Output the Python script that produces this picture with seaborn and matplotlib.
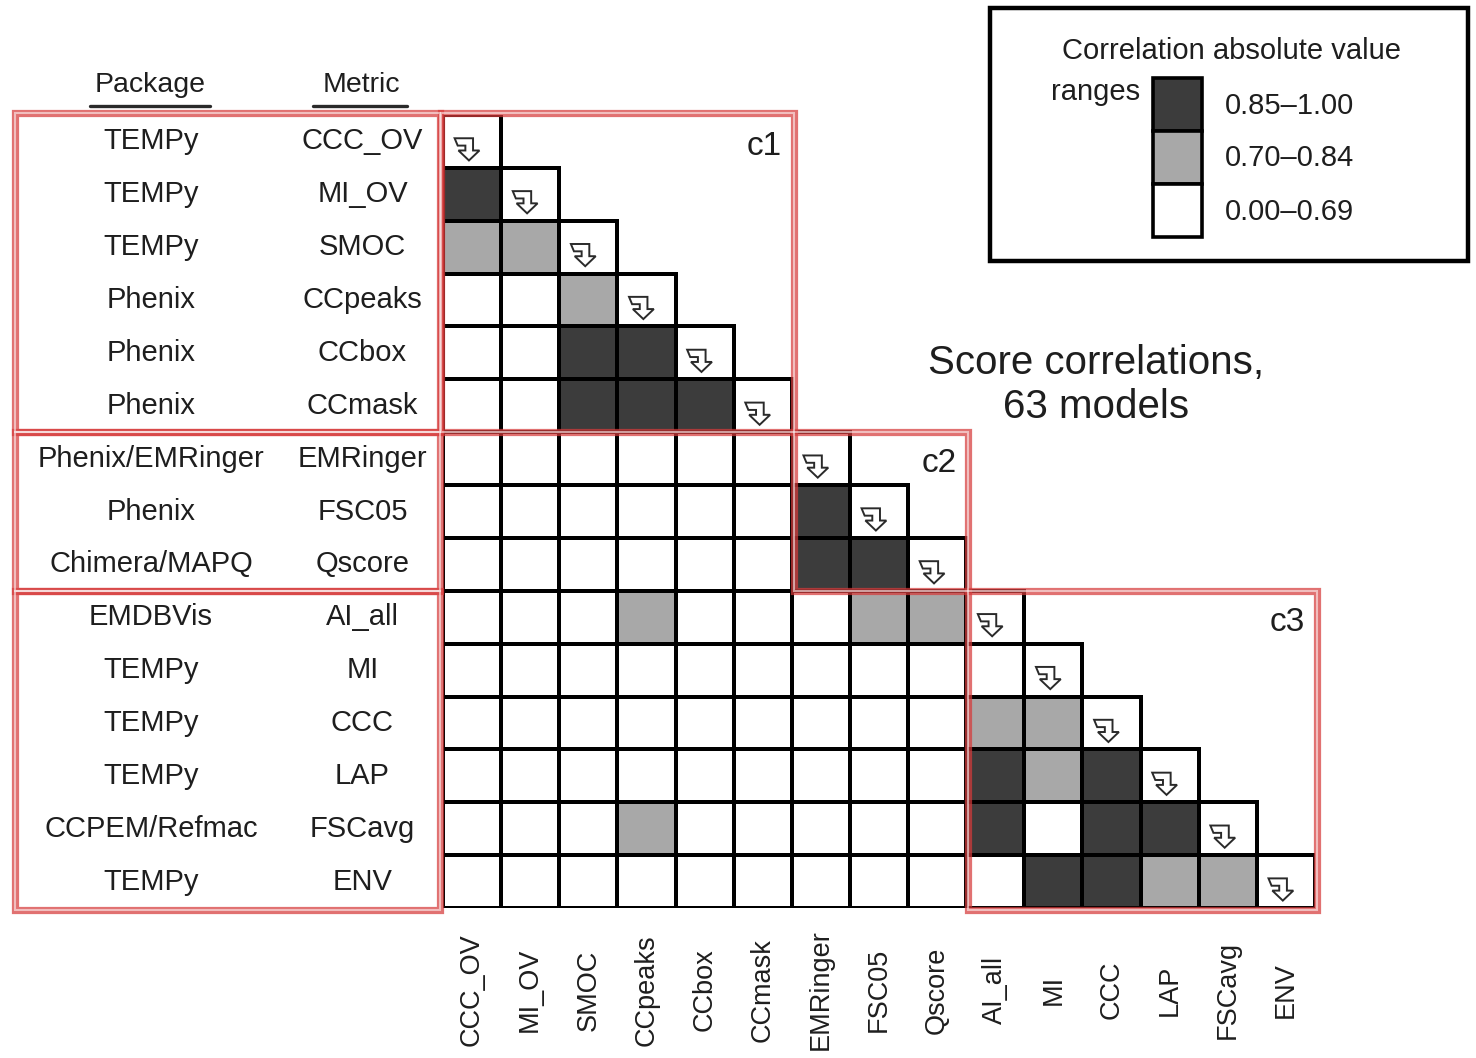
import numpy as np
import pandas as pd
import matplotlib
matplotlib.use("Agg")
import matplotlib.pyplot as plt
from matplotlib.colors import ListedColormap
from matplotlib.patches import Rectangle, Polygon
from matplotlib.lines import Line2D
import seaborn as sns

# ---------------- data ----------------
metrics = ["CCC_OV", "MI_OV", "SMOC", "CCpeaks", "CCbox", "CCmask",
           "EMRinger", "FSC05", "Qscore", "AI_all", "MI", "CCC", "LAP",
           "FSCavg", "ENV"]
packages = ["TEMPy", "TEMPy", "TEMPy", "Phenix", "Phenix", "Phenix",
            "Phenix/EMRinger", "Phenix", "Chimera/MAPQ", "EMDBVis", "TEMPy",
            "TEMPy", "TEMPy", "CCPEM/Refmac", "TEMPy"]

# correlation range class of each lower-triangle cell (left of the diagonal)
# 0 = 0.00–0.69, 1 = 0.70–0.84, 2 = 0.85–1.00
row_CCC_OV = []
row_MI_OV = [2]
row_SMOC = [1, 1]
row_CCpeaks = [0, 0, 1]
row_CCbox = [0, 0, 2, 2]
row_CCmask = [0, 0, 2, 2, 2]
row_EMRinger = [0, 0, 0, 0, 0, 0]
row_FSC05 = [0, 0, 0, 0, 0, 0, 2]
row_Qscore = [0, 0, 0, 0, 0, 0, 2, 2]
row_AI_all = [0, 0, 0, 1, 0, 0, 0, 1, 1]
row_MI = [0, 0, 0, 0, 0, 0, 0, 0, 0, 0]
row_CCC = [0, 0, 0, 0, 0, 0, 0, 0, 0, 1, 1]
row_LAP = [0, 0, 0, 0, 0, 0, 0, 0, 0, 2, 1, 2]
row_FSCavg = [0, 0, 0, 1, 0, 0, 0, 0, 0, 2, 0, 2, 2]
row_ENV = [0, 0, 0, 0, 0, 0, 0, 0, 0, 0, 2, 2, 1, 1]
rows = [row_CCC_OV, row_MI_OV, row_SMOC, row_CCpeaks, row_CCbox, row_CCmask,
        row_EMRinger, row_FSC05, row_Qscore, row_AI_all, row_MI, row_CCC,
        row_LAP, row_FSCavg, row_ENV]

range_labels = ["0.00–0.69", "0.70–0.84", "0.85–1.00"]
range_colors = ["#ffffff", "#a8a8a8", "#3c3c3c"]
cluster_names = ["c1", "c2", "c3"]
cluster_bounds = [(0, 6), (6, 9), (9, 15)]

# ---------------- build matrix ----------------
n = len(metrics)
M = np.full((n, n), np.nan)
for i, r in enumerate(rows):
    M[i, :i] = r
    M[i, i] = 0
df = pd.DataFrame(M, index=metrics, columns=metrics)
mask = np.triu(np.ones((n, n), dtype=bool), k=1)

# ---------------- figure ----------------
sns.set_theme(style="white")
plt.rcParams["font.family"] = ["Liberation Sans", "DejaVu Sans"]
TXT = "#1e1e1e"

W, H = 1476, 1058
fig = plt.figure(figsize=(W / 100, H / 100), dpi=100)
GX0, GX1, GY0, GY1 = 443, 1315, 115, 908
ax = fig.add_axes([GX0 / W, 1 - GY1 / H, (GX1 - GX0) / W, (GY1 - GY0) / H])

sns.heatmap(df, mask=mask, cmap=ListedColormap(range_colors), vmin=-0.5,
            vmax=2.5, linewidths=2.6, linecolor="black", cbar=False, ax=ax,
            xticklabels=metrics, yticklabels=metrics)

# keep cell borders only on the drawn (lower-triangle) cells
mesh = ax.collections[0]
ec = np.zeros((n * n, 4))
ec[~mask.ravel()] = (0, 0, 0, 1)
mesh.set_edgecolor(ec)

cw = (GX1 - GX0) / n
ch = (GY1 - GY0) / n
def dx(px):
    return (px - GX0) / cw
def dy(py):
    return (py - GY0) / ch
def fx(px):
    return px / W
def fy(py):
    return 1 - py / H

# tick labels
ax.tick_params(axis="x", length=0, pad=59)
ax.tick_params(axis="y", length=0, pad=58)
for t in ax.get_xticklabels():
    t.set_rotation(90)
    t.set_va("center")
    t.set_ha("center")
    t.set_fontsize(19.5)
    t.set_color(TXT)
for t in ax.get_yticklabels():
    t.set_rotation(0)
    t.set_ha("center")
    t.set_va("center")
    t.set_fontsize(21)
    t.set_color(TXT)

# package column
for i, p in enumerate(packages):
    ax.text(dx(151), i + 0.5, p, ha="center", va="center", fontsize=21,
            color=TXT, clip_on=False)

# diagonal arrow icons
icon = np.array([(0.0, 0.0), (0.72, 0.0), (0.72, 0.55), (0.97, 0.55),
                 (0.56, 1.0), (0.15, 0.55), (0.42, 0.55), (0.42, 0.33),
                 (0.12, 0.33)])
for i in range(n):
    pts = np.column_stack([i + 0.2 + icon[:, 0] * 0.44,
                           i + 0.44 + icon[:, 1] * 0.42])
    ax.add_patch(Polygon(pts, closed=True, facecolor="white",
                         edgecolor="#2a2a2a", lw=1.4, zorder=5))

# red cluster boxes
def red_box(x0, y0, x1, y1):
    ax.add_patch(Rectangle((x0, y0), x1 - x0, y1 - y0, fill=False,
                           edgecolor="#d63a3a", lw=5.2, alpha=0.72,
                           clip_on=False, zorder=6))
    ax.add_patch(Rectangle((x0, y0), x1 - x0, y1 - y0, fill=False,
                           edgecolor="white", lw=1.5, alpha=0.55,
                           clip_on=False, zorder=7))

pad = 0.04
left_x = dx(15)
for k, (b0, b1) in enumerate(cluster_bounds):
    y0 = b0 - pad if b0 == 0 else b0
    y1 = b1 + pad if b1 == n else b1
    x0 = b0 - pad if b0 == 0 else b0 + 0.03
    x1 = b1 + pad if b1 == n else b1 + 0.03
    red_box(x0, y0, x1, y1)
    red_box(left_x, y0, -0.05, y1)
    ax.text(b1 - 0.17, b0 + 0.6, cluster_names[k], ha="right", va="center",
            fontsize=24, color=TXT, zorder=8)

# headers
fig.text(fx(150), fy(85), "Package", ha="center", va="center", fontsize=20.5,
         color=TXT)
fig.text(fx(361), fy(85), "Metric", ha="center", va="center", fontsize=20.5,
         color=TXT)
fig.add_artist(Line2D([fx(90), fx(210)], [fy(106), fy(106)], color="#2a2a2a",
                      lw=2.4))
fig.add_artist(Line2D([fx(313), fx(407)], [fy(106), fy(106)], color="#2a2a2a",
                      lw=2.4))

# title text
fig.text(fx(1096), fy(385), "Score correlations,\n63 models", ha="center",
         va="center", fontsize=29, color=TXT, linespacing=1.22)

# legend
fig.add_artist(Rectangle((fx(990), fy(261)), fx(1468) - fx(990),
                         fy(8) - fy(261), transform=fig.transFigure,
                         fill=False, edgecolor="black", lw=3.2))
fig.text(fx(1231), fy(51), "Correlation absolute value", ha="center",
         va="center", fontsize=21, color=TXT)
fig.text(fx(1096), fy(92), "ranges", ha="center", va="center", fontsize=21,
         color=TXT)
sw_top, sw_h = 78, 53
for k, (lab, col) in enumerate(zip(range_labels[::-1], range_colors[::-1])):
    top = sw_top + k * sw_h
    fig.add_artist(Rectangle((fx(1153), fy(top + sw_h)), fx(1202) - fx(1153),
                             fy(top) - fy(top + sw_h),
                             transform=fig.transFigure, facecolor=col,
                             edgecolor="black", lw=2.6))
    fig.text(fx(1225), fy(top + sw_h / 2 + 1), lab, ha="left", va="center",
             fontsize=21, color=TXT)

fig.savefig("out.png", dpi=100)
